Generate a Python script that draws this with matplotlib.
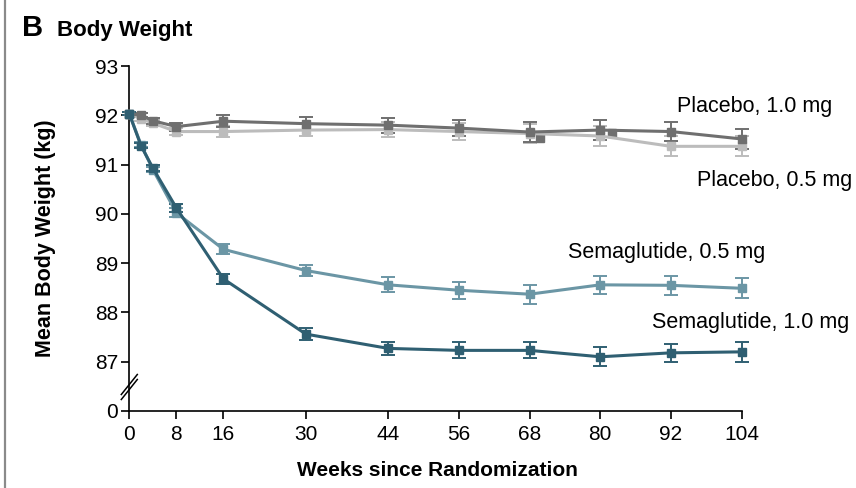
import matplotlib
matplotlib.use("Agg")
import matplotlib.pyplot as plt
from matplotlib.lines import Line2D

plt.rcParams["font.family"] = ["Liberation Sans", "DejaVu Sans"]

# mean body weight (kg) with standard errors, by week since randomization
weeks = [0, 2, 4, 8, 16, 30, 44, 56, 68, 80, 92, 104]

sema_1mg = [92.03, 91.38, 90.93, 90.12, 88.68, 87.56, 87.27, 87.23, 87.23, 87.10, 87.18, 87.20]
sema_1mg_se = [0.03, 0.05, 0.06, 0.09, 0.10, 0.12, 0.14, 0.16, 0.16, 0.19, 0.18, 0.20]

sema_05mg = [92.03, 91.40, 90.90, 90.02, 89.28, 88.85, 88.56, 88.45, 88.37, 88.56, 88.55, 88.49]
sema_05mg_se = [0.03, 0.05, 0.06, 0.09, 0.10, 0.12, 0.15, 0.17, 0.19, 0.18, 0.19, 0.20]

plac_1mg = [92.03, 92.00, 91.89, 91.77, 91.88, 91.83, 91.80, 91.74, 91.66, 91.70, 91.67, 91.52]
plac_1mg_se = [0.03, 0.04, 0.06, 0.08, 0.12, 0.13, 0.15, 0.17, 0.20, 0.20, 0.20, 0.20]

plac_05mg = [92.03, 91.93, 91.84, 91.67, 91.67, 91.70, 91.71, 91.67, 91.63, 91.58, 91.37, 91.37]
plac_05mg_se = [0.03, 0.04, 0.06, 0.08, 0.12, 0.13, 0.15, 0.17, 0.20, 0.20, 0.20, 0.20]

# two stray placebo 1.0 mg markers sitting just right of weeks 68 and 80
plac_1mg_extra_wk = [69.8, 82.0]
plac_1mg_extra = [91.53, 91.64]

y_ticks = [86, 87, 88, 89, 90, 91, 92, 93]
y_ticklabels = ["0", "87", "88", "89", "90", "91", "92", "93"]
x_ticks = [0, 8, 16, 30, 44, 56, 68, 80, 92, 104]

c_sema1 = "#2f5f72"
c_sema05 = "#6b96a5"
c_plac1 = "#6f6f6f"
c_plac05 = "#bcbcbc"

fig = plt.figure(figsize=(8.56, 4.88), dpi=100)
ax = fig.add_axes([129.3 / 856, 77 / 488, 612.2 / 856, 345 / 488])

series = [
    (plac_05mg, plac_05mg_se, c_plac05),
    (plac_1mg, plac_1mg_se, c_plac1),
    (sema_05mg, sema_05mg_se, c_sema05),
    (sema_1mg, sema_1mg_se, c_sema1),
]
for vals, se, col in series:
    ax.errorbar(weeks, vals, yerr=se, color=col, ecolor=col, lw=2.2,
                elinewidth=1.4, capsize=5, capthick=1.4, marker="s",
                markersize=6, clip_on=False, zorder=3)

ax.plot(plac_1mg_extra_wk, plac_1mg_extra, "s", color=c_plac1,
        markersize=6, zorder=3)

ax.set_xlim(0, 104)
ax.set_ylim(86, 93)
ax.set_xticks(x_ticks)
ax.set_yticks(y_ticks)
ax.set_yticklabels(y_ticklabels)
ax.tick_params(axis="both", labelsize=15, length=6, width=1.2, color="black")
ax.tick_params(axis="y", pad=2)
ax.tick_params(axis="x", pad=4)
for s in ["top", "right"]:
    ax.spines[s].set_visible(False)
for s in ["left", "bottom"]:
    ax.spines[s].set_linewidth(1.2)

# axis break marks between 0 and 87
for off in (-2.5, 2.5):
    x0, y0 = 129.3, 488 - 387 + off
    fig.add_artist(Line2D([(x0 - 8) / 856, (x0 + 8) / 856],
                          [(y0 - 10) / 488, (y0 + 10) / 488],
                          color="black", lw=1.1, transform=fig.transFigure))

# series labels
lab_kw = dict(fontsize=15.5, va="center", ha="left", clip_on=False)
ax.text(93.1, 92.18, "Placebo, 1.0 mg", **lab_kw)
ax.text(96.5, 90.67, "Placebo, 0.5 mg", **lab_kw)
ax.text(74.5, 89.22, "Semaglutide, 0.5 mg", **lab_kw)
ax.text(88.8, 87.80, "Semaglutide, 1.0 mg", **lab_kw)

fig.text(22 / 856, 1 - 36 / 488, "B", fontsize=21, fontweight="bold", va="baseline")
fig.text(57 / 856, 1 - 36 / 488, "Body Weight", fontsize=16, fontweight="bold",
         va="baseline")

fig.text(46 / 856, 1 - 238 / 488, "Mean Body Weight (kg)", fontsize=15.5,
         fontweight="bold", rotation=90, ha="center", va="center")
fig.text(437 / 856, 1 - 471 / 488, "Weeks since Randomization", fontsize=15,
         fontweight="bold", ha="center", va="center")

# panel border on the left edge
fig.add_artist(Line2D([4.5 / 856, 4.5 / 856], [0, 1], color="#8a8a8a", lw=1.6,
                      transform=fig.transFigure))

fig.savefig("out.png", dpi=100, facecolor="white")
